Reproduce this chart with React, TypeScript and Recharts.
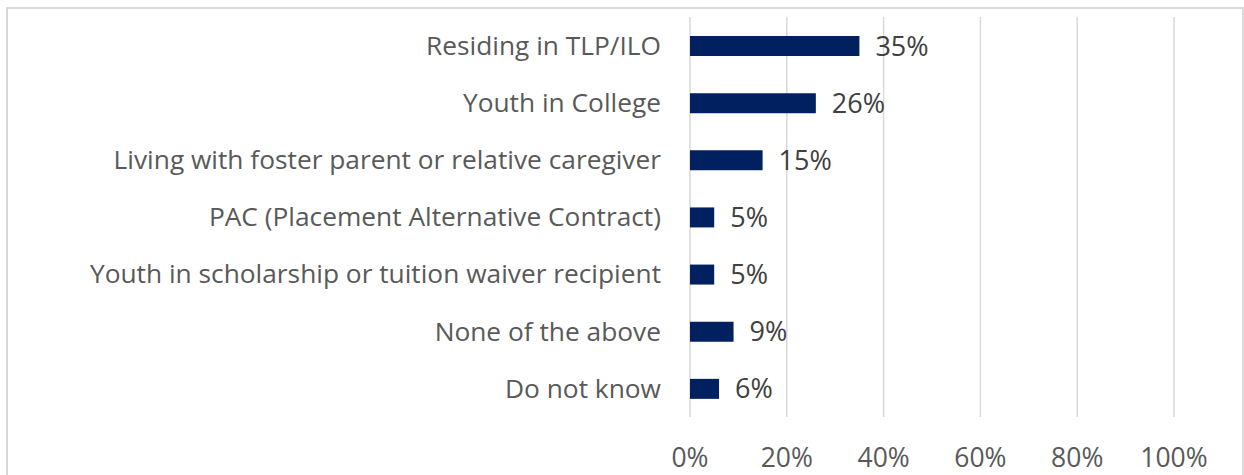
import { BarChart, Bar, XAxis, YAxis, CartesianGrid, LabelList } from "recharts";

const categories = [
  "Residing in TLP/ILO",
  "Youth in College",
  "Living with foster parent or relative caregiver",
  "PAC (Placement Alternative Contract)",
  "Youth in scholarship or tuition waiver recipient",
  "None of the above",
  "Do not know",
];
const shares = [35, 26, 15, 5, 5, 9, 6];
const xTicks = [0, 20, 40, 60, 80, 100];

const data = categories.map((name, i) => ({ name, value: shares[i] }));

const FONT = "'Open Sans', 'Noto Sans', sans-serif";

export default function App() {
  return (
    <div style={{ position: "absolute", left: 0, top: 0, width: 1244, height: 475, overflow: "hidden", background: "#fff" }}>
      <div
        style={{
          position: "absolute",
          left: 6,
          top: 7,
          width: 1238,
          height: 490,
          border: "2px solid #d9d9d9",
          boxSizing: "border-box",
        }}
      />
      <div style={{ position: "absolute", left: 0, top: 0 }}>
        <BarChart
          width={1244}
          height={475}
          data={data}
          layout="vertical"
          margin={{ top: 17, right: 70, bottom: 0, left: 0 }}
          barSize={20}
        >
          <CartesianGrid horizontal={false} vertical stroke="#d9d9d9" strokeWidth={1.5} />
          <XAxis
            type="number"
            domain={[0, 100]}
            ticks={xTicks}
            tickFormatter={(v) => `${v}%`}
            axisLine={false}
            tickLine={false}
            tickSize={0}
            tickMargin={31}
            height={58}
            tick={{ fontSize: 26.5, fill: "#595959", fontFamily: FONT }}
          />
          <YAxis
            type="category"
            dataKey="name"
            width={690}
            axisLine={false}
            tickLine={false}
            tickSize={0}
            tickMargin={29}
            interval={0}
            tick={{ fontSize: 26.3, fill: "#595959", fontFamily: FONT }}
          />
          <Bar dataKey="value" fill="#002060" isAnimationActive={false}>
            <LabelList
              dataKey="value"
              position="right"
              offset={16}
              formatter={(v: number) => `${v}%`}
              style={{ fontSize: 27, fill: "#404040", fontFamily: FONT }}
            />
          </Bar>
        </BarChart>
      </div>
    </div>
  );
}
